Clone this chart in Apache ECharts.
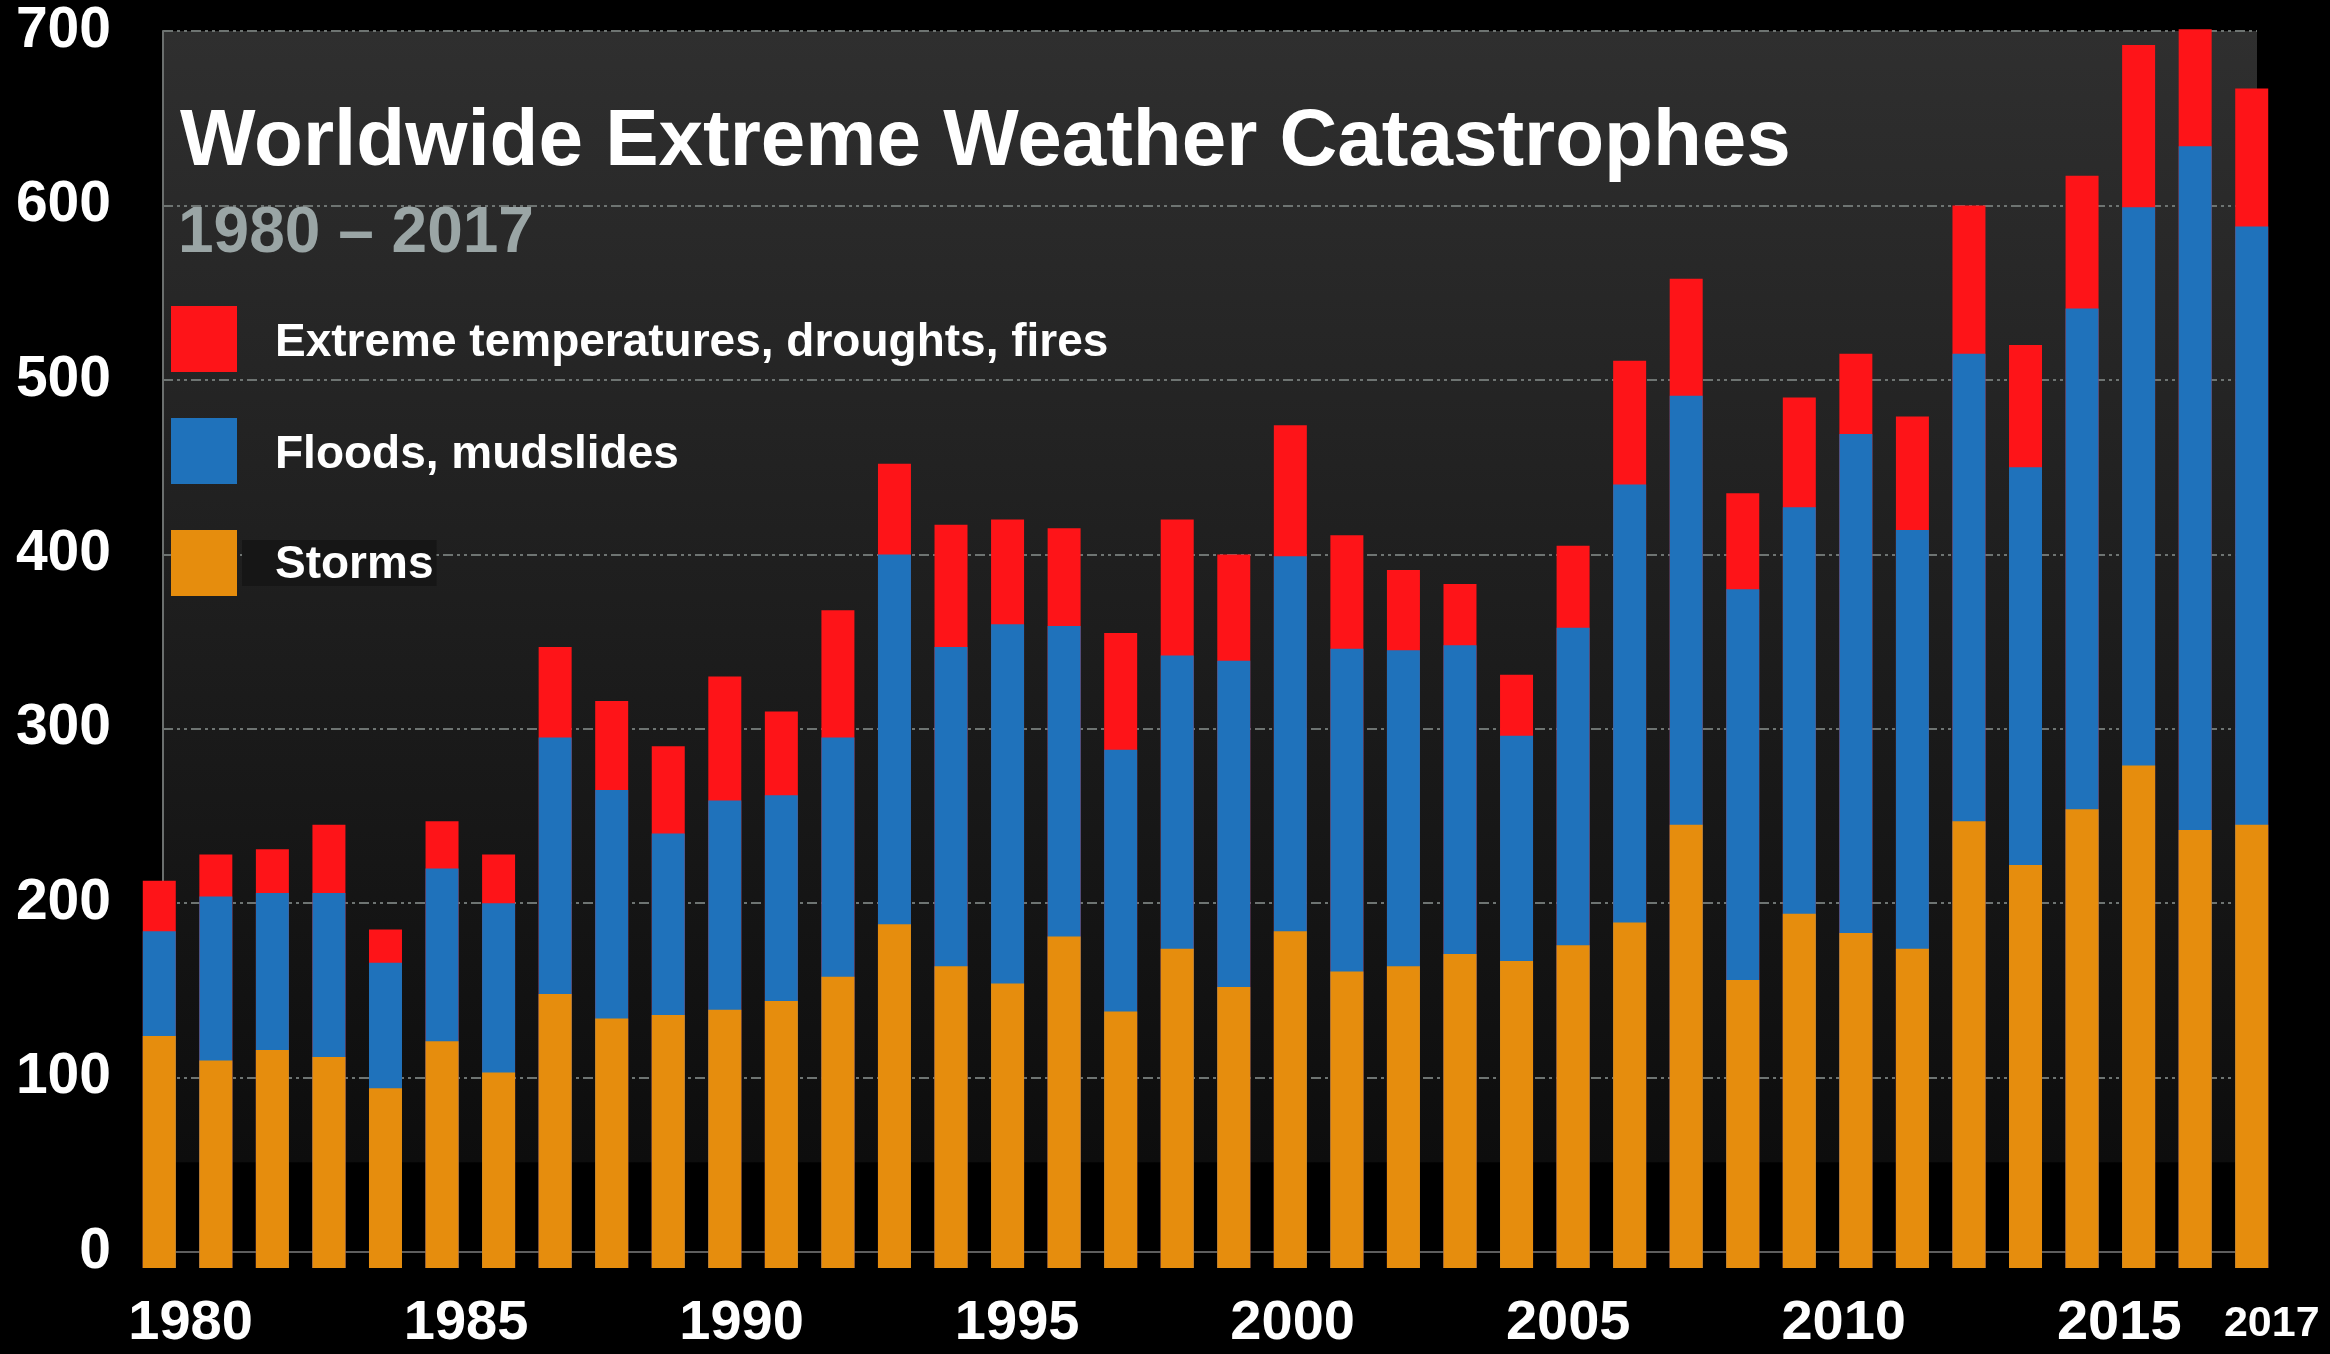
<!DOCTYPE html>
<html>
<head>
<meta charset="utf-8">
<script src="https://cdn.jsdelivr.net/npm/echarts@6/dist/echarts.min.js"></script>
<style>
html,body{margin:0;padding:0;background:#000;}
#chart{width:2330px;height:1354px;}
</style>
</head>
<body>
<div id="chart"></div>
<script>
// ---- data ----
const years = ['1980','1981','1982','1983','1984','1985','1986','1987','1988','1989',
  '1990','1991','1992','1993','1994','1995','1996','1997','1998','1999',
  '2000','2001','2002','2003','2004','2005','2006','2007','2008','2009',
  '2010','2011','2012','2013','2014','2015','2016','2017'];
const storms = [124,110,116,112,94,121,103,148,134,136,
  139,144,158,188,164,154,181,138,174,152,
  184,161,164,171,167,176,189,245,156,194,
  183,174,247,222,254,279,242,245];
const floods = [60,94,90,94,72,99,97,147,131,104,
  120,118,137,212,183,206,178,150,168,187,
  215,185,181,177,129,182,251,246,224,233,
  286,240,268,228,287,320,392,343];
const extremes = [29,24,25,39,19,27,28,52,51,50,
  71,48,73,52,70,60,56,67,78,61,
  75,65,46,35,35,47,71,67,55,63,
  46,65,85,70,76,93,67,79];
const yTicks = [0,100,200,300,400,500,600,700];
const seriesNames = ['Extreme temperatures, droughts, fires','Floods, mudslides','Storms'];
const titleText = 'Worldwide Extreme Weather Catastrophes';
const subtitleText = '1980 \u2013 2017';

// cumulative tops (bars overlap: storms on top of floods on top of extremes)
const floodTop = storms.map((s, i) => s + floods[i]);
const totalTop = floodTop.map((f, i) => f + extremes[i]);

const FONT = "'Liberation Sans', Arial, Helvetica, sans-serif";
const RED = '#fe1418', BLUE = '#1f72bb', ORANGE = '#e68d0d';
const lastIndex = years.length - 1;

const chart = echarts.init(document.getElementById('chart'), null, {renderer: 'canvas'});
const option = {
  backgroundColor: '#000',
  animation: false,
  title: [
    { text: titleText, left: 180, top: 102, padding: 0,
      textStyle: { color: '#fff', fontSize: 80, fontWeight: 'bold', fontFamily: FONT, lineHeight: 82 } },
    { text: subtitleText, left: 178, top: 202, padding: 0,
      textStyle: { color: '#9aa5a5', fontSize: 64, fontWeight: 'bold', fontFamily: FONT, lineHeight: 64 } }
  ],
  legend: {
    orient: 'vertical', left: 171, top: 306, padding: 0,
    itemWidth: 66, itemHeight: 66, itemGap: 46, icon: 'rect',
    selectedMode: false,
    data: seriesNames,
    formatter: function (name) { return name === 'Storms' ? '{b|' + name + '}' : '{a|' + name + '}'; },
    textStyle: {
      color: '#fff', fontSize: 46, fontWeight: 'bold', fontFamily: FONT,
      rich: {
        a: { color: '#fff', fontSize: 46, fontWeight: 'bold', fontFamily: FONT, padding: [9, 0, 0, 33] },
        b: { color: '#fff', fontSize: 46, fontWeight: 'bold', fontFamily: FONT, padding: [4, 3, 0, 33],
             backgroundColor: '#161616', height: 42, lineHeight: 42 }
      }
    }
  },
  grid: [
    { left: 163, right: 73, top: 31, bottom: 102, show: true, borderWidth: 0,
      containLabel: false, outerBoundsMode: 'none',
      backgroundColor: new echarts.graphic.LinearGradient(0, 0, 0, 1, [
        { offset: 0, color: '#2f2f2f' },
        { offset: 0.926, color: '#0d0d0d' },
        { offset: 0.927, color: '#000000' },
        { offset: 1, color: '#000000' }
      ]) },
    { left: 131, right: 50, top: 13.55, bottom: 86, show: false,
      containLabel: false, outerBoundsMode: 'none' }
  ],
  xAxis: [
    { gridIndex: 0, type: 'category', data: years, boundaryGap: true,
      axisLine: { show: true, lineStyle: { color: '#5d5d5d', width: 2 } },
      axisTick: { show: false },
      splitLine: { show: false },
      axisLabel: {
        interval: function (index) { return index % 5 === 0; },
        margin: 44, color: '#fff', fontSize: 56, fontWeight: 'bold', fontFamily: FONT, lineHeight: 56
      } },
    { gridIndex: 1, type: 'category', data: years, boundaryGap: true,
      axisLine: { show: false }, axisTick: { show: false }, splitLine: { show: false },
      axisLabel: {
        interval: function (index) { return index === lastIndex; },
        margin: 28, color: '#fff', fontSize: 43, fontWeight: 'bold', fontFamily: FONT, lineHeight: 56,
        padding: [0, 0, 0, 40]
      } }
  ],
  yAxis: [
    { gridIndex: 0, type: 'value', min: yTicks[0], max: yTicks[yTicks.length - 1], interval: 100,
      axisLine: { show: true, lineStyle: { color: '#6b6f6e', width: 2 } },
      axisTick: { show: false },
      axisLabel: { margin: 52, color: '#fff', fontSize: 57, fontWeight: 'bold', fontFamily: FONT },
      splitLine: { show: true, showMinLine: false,
        lineStyle: { color: '#6e7472', width: 2, type: [10, 4, 3, 4, 3, 4] } } },
    { gridIndex: 1, type: 'value', min: -9, max: 710, startValue: -9, show: false,
      splitLine: { show: false } }
  ],
  series: [
    { name: seriesNames[0], type: 'bar', xAxisIndex: 1, yAxisIndex: 1, data: totalTop,
      barWidth: 33, barGap: '-100%', itemStyle: { color: RED }, silent: true },
    { name: seriesNames[1], type: 'bar', xAxisIndex: 1, yAxisIndex: 1, data: floodTop,
      barWidth: 33, barGap: '-100%', itemStyle: { color: BLUE }, silent: true },
    { name: seriesNames[2], type: 'bar', xAxisIndex: 1, yAxisIndex: 1, data: storms,
      barWidth: 33, barGap: '-100%', itemStyle: { color: ORANGE }, silent: true }
  ]
};
chart.setOption(option);
</script>
</body>
</html>
